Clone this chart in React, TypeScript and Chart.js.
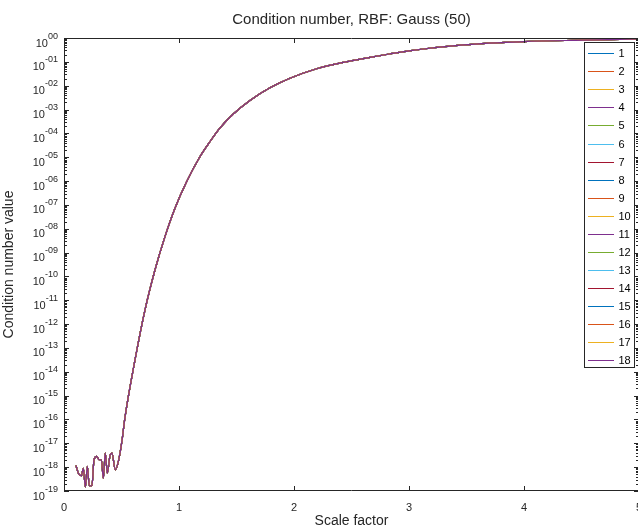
import React, { useEffect, useRef } from "react";
import { Chart, registerables } from "chart.js";

Chart.register(...registerables);

// Scale factor (x) and log10 of the condition-number value (y)
const scaleFactor = [
  0.104, 0.128, 0.151, 0.168, 0.186, 0.203, 0.22, 0.243, 0.261, 0.284,
  0.307, 0.325, 0.342, 0.359, 0.377, 0.4, 0.417, 0.446, 0.476, 0.504,
  0.53, 0.617, 0.704, 0.791, 0.878, 0.965, 1.067, 1.183, 1.27, 1.357,
  1.472, 1.617, 1.791, 1.965, 2.197, 2.429, 2.661, 2.829, 3.0, 3.47,
  4.0, 4.52, 5.0,
];
const log10Cond = [
  -17.93, -18.29, -18.36, -18.05, -18.84, -17.97, -18.78, -18.78, -17.69, -17.55,
  -17.69, -17.69, -18.47, -17.41, -18.25, -17.52, -17.41, -18.11, -17.69, -16.9,
  -15.92, -13.51, -11.41, -9.73, -8.33, -7.14, -6.02, -4.97, -4.34, -3.77,
  -3.19, -2.62, -2.09, -1.69, -1.29, -1.02, -0.81, -0.67, -0.54, -0.29,
  -0.15, -0.09, -0.04,
];

const seriesLabels = [
  "1", "2", "3", "4", "5", "6", "7", "8", "9",
  "10", "11", "12", "13", "14", "15", "16", "17", "18",
];
const palette = ["#0072BD", "#D95319", "#EDB120", "#7E2F8E", "#77AC30", "#4DBEEE", "#A2142F"];
const seriesColors = seriesLabels.map((_, i) => palette[i % palette.length]);

const xTickValues = [0, 1, 2, 3, 4, 5];
const yTickExponents = [0, -1, -2, -3, -4, -5, -6, -7, -8, -9, -10, -11, -12, -13, -14, -15, -16, -17, -18, -19];

const TITLE = "Condition number, RBF: Gauss (50)";
const X_LABEL = "Scale factor";
const Y_LABEL = "Condition number value";

const FONT = '"Liberation Sans", Arial, Helvetica, sans-serif';
const INK = "#262626";

const CANVAS_W = 680;
const CANVAS_H = 527;

function expLabel(e: number): string {
  if (e === 0) return "00";
  const a = Math.abs(e);
  return "-" + (a < 10 ? "0" + a : String(a));
}

const decorPlugin = {
  id: "matlabDecor",
  afterDraw(chart: any) {
    const { ctx, chartArea } = chart;
    const xs = chart.scales.x;
    const ys = chart.scales.y;
    const { left, right, top, bottom } = chartArea;
    ctx.save();

    // box
    ctx.strokeStyle = INK;
    ctx.lineWidth = 1;
    ctx.beginPath();
    ctx.rect(left + 0.5, top + 0.5, right - left - 1, bottom - top - 1);
    ctx.stroke();

    // x ticks (bottom and top, inward)
    ctx.beginPath();
    for (const v of xTickValues) {
      const px = Math.round(xs.getPixelForValue(v)) + 0.5;
      ctx.moveTo(px, bottom);
      ctx.lineTo(px, bottom - 5);
      ctx.moveTo(px, top);
      ctx.lineTo(px, top + 5);
    }
    // y major + minor ticks (left and right, inward)
    for (const e of yTickExponents) {
      const py = Math.round(ys.getPixelForValue(Math.pow(10, e))) + 0.5;
      ctx.moveTo(left, py);
      ctx.lineTo(left + 5, py);
      ctx.moveTo(right, py);
      ctx.lineTo(right - 5, py);
      if (e > -19) {
        for (let m = 2; m <= 9; m++) {
          const my = Math.round(ys.getPixelForValue(m * Math.pow(10, e - 1))) + 0.5;
          ctx.moveTo(left, my);
          ctx.lineTo(left + 3, my);
          ctx.moveTo(right, my);
          ctx.lineTo(right - 3, my);
        }
      }
    }
    ctx.stroke();

    // y tick labels 10^e
    ctx.fillStyle = INK;
    ctx.textBaseline = "alphabetic";
    ctx.textAlign = "right";
    for (const e of yTickExponents) {
      const py = ys.getPixelForValue(Math.pow(10, e));
      const ex = expLabel(e);
      ctx.font = `9px ${FONT}`;
      const ew = ctx.measureText(ex).width;
      ctx.fillText(ex, 58, py + 0.5);
      ctx.font = `11px ${FONT}`;
      ctx.fillText("10", 58 - ew, py + 8.5);
    }

    // title
    ctx.textAlign = "center";
    ctx.font = `15px ${FONT}`;
    ctx.fillText(TITLE, (left + right) / 2, 23.5);

    // x label
    ctx.font = `14px ${FONT}`;
    ctx.fillText(X_LABEL, (left + right) / 2, 525);

    // y label
    ctx.save();
    ctx.translate(13, (top + bottom) / 2);
    ctx.rotate(-Math.PI / 2);
    ctx.fillText(Y_LABEL, 0, 0);
    ctx.restore();

    // legend
    const boxRight = right - 4.5;
    const boxLeft = boxRight - 50;
    const boxTop = top + 4.5;
    const rowH = 18.04;
    const boxBottom = boxTop + 325;
    ctx.fillStyle = "#ffffff";
    ctx.fillRect(boxLeft, boxTop, boxRight - boxLeft, boxBottom - boxTop);
    ctx.strokeStyle = INK;
    ctx.strokeRect(boxLeft, boxTop, boxRight - boxLeft, boxBottom - boxTop);
    ctx.font = `11px ${FONT}`;
    ctx.textAlign = "left";
    ctx.textBaseline = "middle";
    chart.data.datasets.forEach((ds: any, i: number) => {
      const cy = Math.round(boxTop + 10.8 + i * rowH);
      ctx.fillStyle = ds.borderColor;
      ctx.fillRect(boxLeft + 3.5, cy, 26, 1);
      ctx.fillStyle = "#000000";
      ctx.fillText(ds.label, boxLeft + 34, cy + 1);
    });

    ctx.restore();
  },
};

export default function App() {
  const ref = useRef<HTMLCanvasElement | null>(null);

  useEffect(() => {
    if (!ref.current) return;
    const points = scaleFactor.map((x, i) => ({ x, y: Math.pow(10, log10Cond[i]) }));
    const chart = new Chart(ref.current, {
      type: "line",
      data: {
        datasets: seriesLabels.map((label, i) => ({
          label,
          data: points,
          borderColor: seriesColors[i],
          backgroundColor: seriesColors[i],
          borderWidth: 1.2,
          pointRadius: 0,
          fill: false,
          cubicInterpolationMode: "monotone" as const,
          order: seriesLabels.length - 1 - i,
        })),
      },
      options: {
        animation: false,
        responsive: false,
        devicePixelRatio: 1,
        layout: { padding: { top: 38, right: CANVAS_W - 639, bottom: 0, left: 0 } },
        plugins: {
          legend: { display: false },
          title: { display: false },
          tooltip: { enabled: false },
        },
        scales: {
          x: {
            type: "linear",
            min: 0,
            max: 5,
            afterBuildTicks: (s: any) => {
              s.ticks = xTickValues.map((v) => ({ value: v }));
            },
            afterFit: (s: any) => {
              s.height = 36;
            },
            grid: { display: false, drawTicks: false },
            border: { display: false },
            ticks: {
              autoSkip: false,
              maxRotation: 0,
              padding: 10,
              color: INK,
              font: { family: FONT, size: 11 },
              callback: (v: any) => String(v),
            },
          },
          y: {
            type: "logarithmic",
            min: 1e-19,
            max: 1,
            afterFit: (s: any) => {
              s.width = 64;
            },
            grid: { display: false, drawTicks: false },
            border: { display: false },
            ticks: { display: false },
          },
        },
      },
      plugins: [decorPlugin],
    });
    return () => chart.destroy();
  }, []);

  return (
    <div
      style={{
        position: "fixed",
        left: 0,
        top: 0,
        width: 638,
        height: 527,
        overflow: "hidden",
        background: "#ffffff",
      }}
    >
      <canvas ref={ref} width={CANVAS_W} height={CANVAS_H} style={{ width: CANVAS_W, height: CANVAS_H, display: "block" }} />
    </div>
  );
}
